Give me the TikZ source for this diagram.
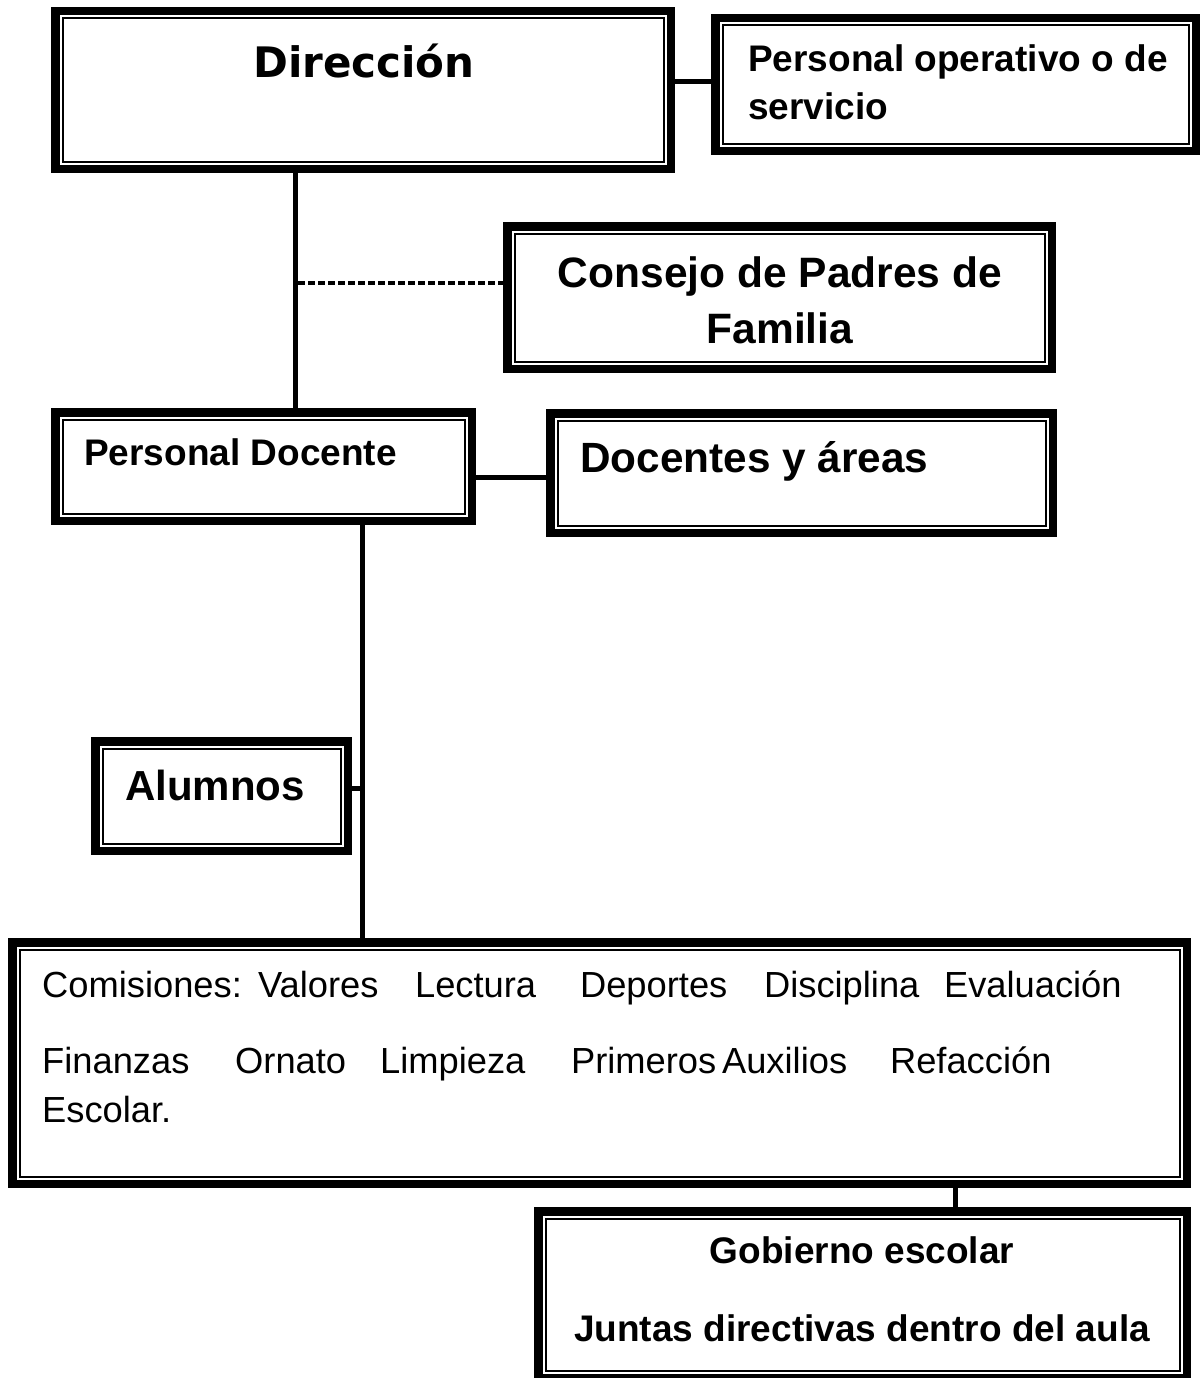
\documentclass[tikz,border=0pt]{standalone}
\usepackage{fontspec}
\setmainfont{Liberation Sans}
\newfontfamily\dejafont{DejaVu Sans}
\usetikzlibrary{calc}
\newcommand\tbox[5]{\node[tb, minimum width={#4-#2-8.5}, minimum height={#5-#3-8.5}] (#1) at ({(#2+#4)/2},{(#3+#5)/2}) {};}
\begin{document}
\begin{tikzpicture}[x=1pt,y=-1pt,
  tb/.style={draw, line width=8.5pt, inner sep=0pt, fill=white,
    path picture={\draw[line width=2pt]
      ([shift={(7.25pt,-7.25pt)}]path picture bounding box.north west) rectangle
      ([shift={(-7.25pt,7.25pt)}]path picture bounding box.south east);}},
  conn/.style={line width=5pt},
  dconn/.style={line width=4pt, dash pattern=on 7pt off 3pt},
  bw/.style={anchor=base west, inner sep=0pt, font=\bfseries\fontsize{#1}{#1}\selectfont},
  bc/.style={anchor=base, inner sep=0pt, font=\bfseries\fontsize{#1}{#1}\selectfont},
  rw/.style={anchor=base west, inner sep=0pt, font=\fontsize{36.3}{36.3}\selectfont}]
\useasboundingbox (0,0) rectangle (1204,1378);
\clip (0,0) rectangle (1204,1378);

% coordinates for connectors
\coordinate (v1) at (295,0);
\coordinate (v2) at (362,0);
\coordinate (v3) at (955,0);
\coordinate (hops) at (0,82);
\coordinate (dsh) at (298,283);
\coordinate (hdya) at (0,477);
\coordinate (halu) at (0,788);

% boxes
\tbox{dir}{51}{7}{675}{173}
\tbox{ops}{711}{14}{1200}{155}
\tbox{con}{503}{222}{1056}{373}
\tbox{pd}{51}{408}{476}{525}
\tbox{dya}{546}{409}{1057}{537}
\tbox{alu}{91}{737}{352}{855}
\tbox{com}{8}{938}{1191}{1188}
\tbox{gob}{534}{1207}{1191}{1382}

% connectors
\draw[conn] (dir.east |- hops) -- (ops.west |- hops);
\draw[conn] (dir.south -| v1) -- (pd.north -| v1);
\draw[dconn] (dsh) -- (dsh -| con.west);
\draw[conn] (pd.east |- hdya) -- (dya.west |- hdya);
\draw[conn] (pd.south -| v2) -- (com.north -| v2);
\draw[conn] (alu.east |- halu) -- (v2 |- halu);
\draw[conn] (com.south -| v3) -- (gob.north -| v3);

% texts
\node[bw=42] (tdir) at (253,78) {\dejafont\bfseries Dirección};
\node[bw=37] (tops1) at (748,72) {Personal operativo o de};
\node[bw=37] (tops2) at (748,120) {servicio};
\node[bc=42.5] (tcon1) at (780,287) {Consejo de Padres de};
\node[bc=42.5] (tcon2) at (780,343) {Familia};
\node[bw=37] (tpd) at (84,465) {Personal Docente};
\node[bw=42.3] (tdya) at (580,472) {Docentes y áreas};
\node[bw=42] (talu) at (125,800) {Alumnos};
\node[rw] (tcom1) at (42,997) {\rlap{Comisiones:}\hspace{216pt}\rlap{Valores}\hspace{157pt}\rlap{Lectura}\hspace{165pt}\rlap{Deportes}\hspace{184pt}\rlap{Disciplina}\hspace{180pt}\rlap{Evaluación}};
\node[rw] (tcom2) at (42,1073) {\rlap{Finanzas}\hspace{193pt}\rlap{Ornato}\hspace{145pt}\rlap{Limpieza}\hspace{191pt}\rlap{Primeros}\hspace{151pt}\rlap{Auxilios}\hspace{168pt}\rlap{Refacción}};
\node[rw] (tcom3) at (42,1122) {Escolar.};
\node[bc=37] (tgob1) at (862,1263) {Gobierno escolar};
\node[bc=37] (tgob2) at (862,1341) {Juntas directivas dentro del aula};
\end{tikzpicture}
\end{document}
